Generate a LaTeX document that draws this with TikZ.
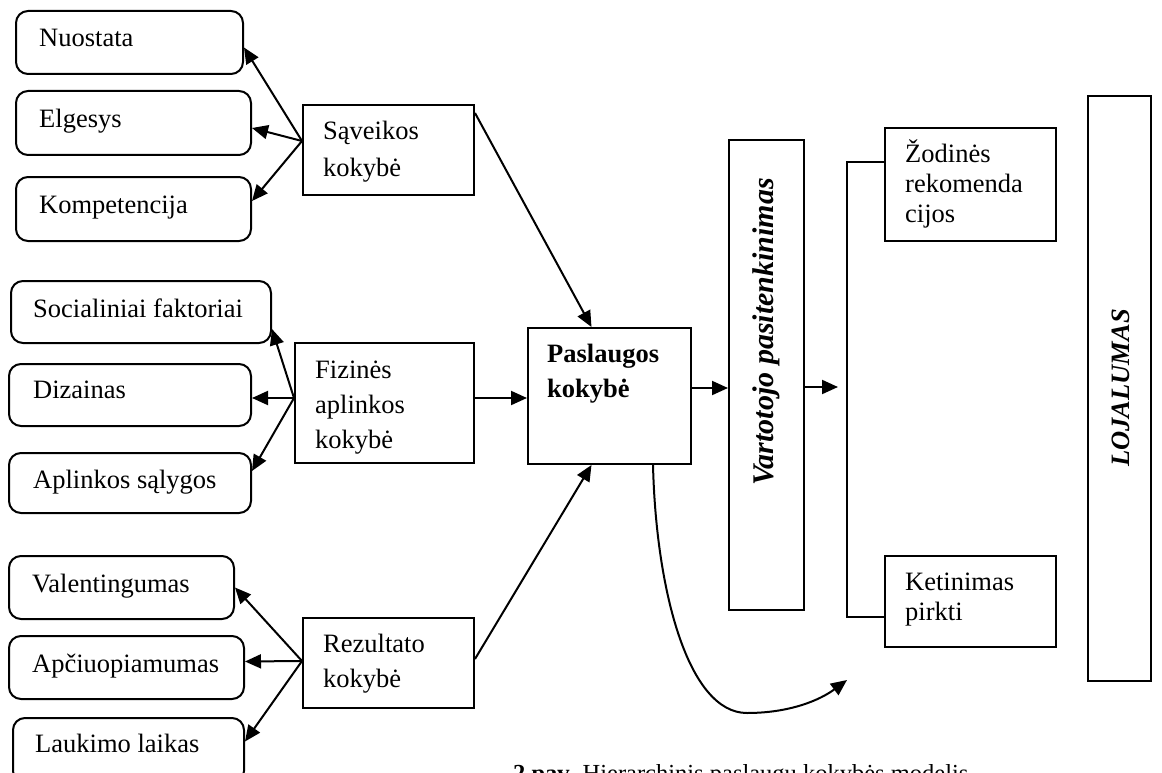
\documentclass[tikz,border=0pt]{standalone}
\usepackage{fontspec}
\setmainfont{Liberation Serif}
\usetikzlibrary{arrows.meta,calc}
\newcommand\fs{\fontsize{26.5}{32}\selectfont}
\tikzset{
  rbox/.style={draw, rounded corners=12pt, line width=2pt, anchor=north west, inner sep=0pt},
  sbox/.style={draw, line width=2pt, anchor=north west, inner sep=0pt},
  txt/.style={anchor=base west, inner sep=0pt, font=\fs},
  arr/.style={-{Triangle[length=16pt,width=14pt]}, line width=2pt},
  ln/.style={line width=2pt},
}
\begin{document}
\begin{tikzpicture}[x=1pt,y=-1pt]
\useasboundingbox (0,0) rectangle (1162,773);
\clip (0,0) rectangle (1162,773);
% boxes
\node[rbox, minimum width=227pt, minimum height=63pt] (nuo) at (15,10) {};
\node[rbox, minimum width=235pt, minimum height=64pt] (elg) at (15,90) {};
\node[rbox, minimum width=235pt, minimum height=64pt] (kom) at (15,176) {};
\node[sbox, minimum width=171pt, minimum height=90pt] (sav) at (302,104) {};
\node[rbox, minimum width=260pt, minimum height=62pt] (soc) at (10,280) {};
\node[rbox, minimum width=242pt, minimum height=62pt] (diz) at (8,363) {};
\node[rbox, minimum width=242pt, minimum height=60pt] (apl) at (8,452) {};
\node[sbox, minimum width=179pt, minimum height=120pt] (fiz) at (294,342) {};
\node[sbox, minimum width=163pt, minimum height=136pt] (pas) at (527,327) {};
\node[rbox, minimum width=225pt, minimum height=63pt] (val) at (8,555) {};
\node[rbox, minimum width=235pt, minimum height=63pt] (apc) at (8,635) {};
\node[rbox, minimum width=231pt, minimum height=65pt] (lau) at (12,717) {};
\node[sbox, minimum width=171pt, minimum height=90pt] (rez) at (302,617) {};
\node[sbox, minimum width=75pt, minimum height=470pt] (var) at (728,139) {};
\node[sbox, minimum width=171pt, minimum height=113pt] (zod) at (884,127) {};
\node[sbox, minimum width=171pt, minimum height=91pt] (ket) at (884,555) {};
\node[sbox, minimum width=63pt, minimum height=585pt] (loj) at (1087,95) {};
% texts
\node[txt] (t-nuo) at (39,47) {Nuostata};
\node[txt] (t-elg) at (39,128) {Elgesys};
\node[txt] (t-kom) at (39,213) {Kompetencija};
\node[txt] (t-sav1) at (323,140) {Sąveikos};
\node[txt] (t-sav2) at (323,176) {kokybė};
\node[txt] (t-soc) at (33,317) {Socialiniai faktoriai};
\node[txt] (t-diz) at (33,398) {Dizainas};
\node[txt] (t-apl) at (33,488) {Aplinkos sąlygos};
\node[txt] (t-fiz1) at (315,378) {Fizinės};
\node[txt] (t-fiz2) at (315,413) {aplinkos};
\node[txt] (t-fiz3) at (315,448) {kokybė};
\node[txt, font=\fs\bfseries] (t-pas1) at (547,362) {Paslaugos};
\node[txt, font=\fs\bfseries] (t-pas2) at (547,397) {kokybė};
\node[txt] (t-val) at (32,592) {Valentingumas};
\node[txt] (t-apc) at (32,672) {Apčiuopiamumas};
\node[txt] (t-lau) at (35,752) {Laukimo laikas};
\node[txt] (t-rez1) at (323,652) {Rezultato};
\node[txt] (t-rez2) at (323,687) {kokybė};
\node[txt] (t-zod1) at (905,162) {Žodinės};
\node[txt] (t-zod2) at (905,192) {rekomenda};
\node[txt] (t-zod3) at (905,222) {cijos};
\node[txt] (t-ket1) at (905,590) {Ketinimas};
\node[txt] (t-ket2) at (905,620) {pirkti};
\node[rotate=90, inner sep=0pt, font=\fontsize{30}{36}\selectfont\bfseries\itshape] (t-var) at (766,332) {Vartotojo pasitenkinimas};
\node[rotate=90, inner sep=0pt, font=\fs\bfseries\itshape] (t-loj) at (1121,388) {LOJALUMAS};
\node[txt, font=\fontsize{24.5}{30}\selectfont] (cap) at (513,781) {\textbf{2 pav.} Hierarchinis paslaugų kokybės modelis};
% arrows from Saveikos
\draw[arr] ([yshift=9pt]sav.west) -- ([yshift=-5pt]nuo.east);
\draw[arr] ([yshift=9pt]sav.west) -- ([yshift=-5pt]elg.east);
\draw[arr] ([yshift=9pt]sav.west) -- ([yshift=8pt]kom.east);
% arrows from Fizines
\draw[arr] ([yshift=5pt]fiz.west) -- ([yshift=-17pt]soc.east);
\draw[arr] ([yshift=5pt]fiz.west) -- ([yshift=-3pt]diz.east);
\draw[arr] ([yshift=5pt]fiz.west) -- ([yshift=12pt]apl.east);
% arrows from Rezultato
\draw[arr] ([yshift=2pt]rez.west) -- (val.east);
\draw[arr] ([yshift=2pt]rez.west) -- ([yshift=6pt]apc.east);
\draw[arr] ([yshift=2pt]rez.west) -- ([yshift=9pt]lau.east);
% into Paslaugos
\draw[arr] ([yshift=37pt]sav.east) -- ([xshift=-18pt]pas.north);
\draw[arr] ([yshift=4pt]rez.east) -- ([xshift=-18pt]pas.south);
\draw[arr] ([yshift=5pt]fiz.east) -- ([yshift=5pt]fiz.east -| pas.west);
% to satisfaction and onward
\draw[arr] ([yshift=8pt]pas.east) -- ([yshift=8pt]pas.east -| var.west);
\coordinate (bin) at (838,387);
\draw[arr] (var.east |- bin) -- (bin);
% bracket
\coordinate (bt) at (847,162);
\coordinate (bb) at (847,617);
\draw[ln] (zod.west |- bt) -- (bt) -- (bb) -- (ket.west |- bb);
% curved arrow
\coordinate (cb) at (747,713);
\coordinate (ce) at (847,680);
\draw[arr] ([xshift=43.5pt]pas.south) .. controls (656,590) and (688,713) .. (cb)
  .. controls (790,713) and (820,700) .. (ce);
\end{tikzpicture}
\end{document}
